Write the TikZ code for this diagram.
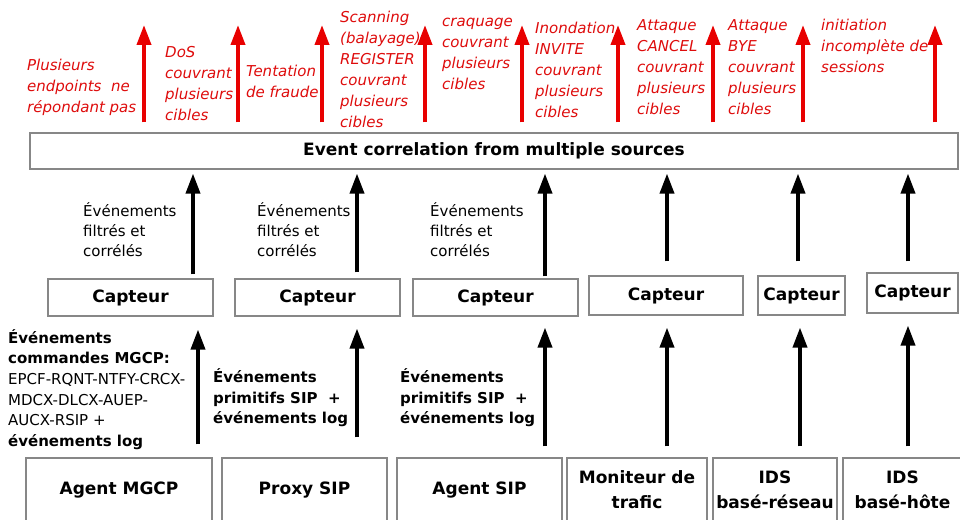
\documentclass[tikz,border=0pt]{standalone}
\usepackage{fontspec}
\setmainfont{DejaVu Sans}
\usetikzlibrary{arrows.meta}
\definecolor{redtxt}{RGB}{222,12,12}
\definecolor{redarr}{RGB}{232,0,0}
\definecolor{boxgray}{RGB}{135,135,135}
\begin{document}
\begin{tikzpicture}[x=1pt,y=-1pt,
  box/.style={draw=boxgray,line width=1.1pt,inner sep=0pt,font=\fontsize{17}{25}\selectfont\bfseries,align=center},
  redlbl/.style={anchor=west,inner sep=0pt,align=left,text=redtxt,font=\fontsize{15}{21}\selectfont\itshape},
  blklbl/.style={anchor=west,inner sep=0pt,align=left,font=\fontsize{15}{20}\selectfont},
  boldlbl/.style={anchor=west,inner sep=0pt,align=left,font=\fontsize{15}{20.6}\selectfont\bfseries},
  barr/.style={line width=3.6pt,-{Triangle[length=20pt,width=14pt]}},
  rarr/.style={draw=redarr,line width=3.8pt,-{Triangle[length=20pt,width=14pt,fill=redarr]}}]
\useasboundingbox (0,0) rectangle (960,519);
% top box
\node[box,minimum width=928pt,minimum height=36pt] (ev) at (494,151) {Event correlation from multiple sources};
% capteurs
\node[box,minimum width=165pt,minimum height=37pt] (cap1) at (130.5,297.5) {Capteur};
\node[box,minimum width=165pt,minimum height=37pt] (cap2) at (317.5,297.5) {Capteur};
\node[box,minimum width=165pt,minimum height=37pt] (cap3) at (495.5,297.5) {Capteur};
\node[box,minimum width=154pt,minimum height=39pt] (cap4) at (666,295.5) {Capteur};
\node[box,minimum width=87pt,minimum height=39pt] (cap5) at (801.5,295.5) {Capteur};
\node[box,minimum width=91pt,minimum height=40pt] (cap6) at (912.5,293) {Capteur};
% bottom boxes
\node[box,minimum width=186pt,minimum height=64pt] (b1) at (119,490) {Agent MGCP};
\node[box,minimum width=165pt,minimum height=64pt] (b2) at (304.5,490) {Proxy SIP};
\node[box,minimum width=165pt,minimum height=64pt] (b3) at (479.5,490) {Agent SIP};
\node[box,minimum width=140pt,minimum height=64pt] (b4) at (637,490) {Moniteur de\\trafic};
\node[box,minimum width=124pt,minimum height=64pt] (b5) at (775,490) {IDS\\basé-réseau};
\node[box,minimum width=119pt,minimum height=64pt] (b6) at (902.5,490) {IDS\\basé-hôte};
% arrows bottom -> capteurs
\draw[barr,shorten <=13pt,shorten >=13pt] (198,0 |- b1.north) -- (198,0 |- cap1.south);
\draw[barr,shorten <=20pt,shorten >=12pt] (357,0 |- b2.north) -- (357,0 |- cap2.south);
\draw[barr,shorten <=11pt,shorten >=11pt] (545,0 |- b3.north) -- (545,0 |- cap3.south);
\draw[barr,shorten <=11pt,shorten >=12pt] (667,0 |- b4.north) -- (667,0 |- cap4.south);
\draw[barr,shorten <=11pt,shorten >=12pt] (800,0 |- b5.north) -- (800,0 |- cap5.south);
\draw[barr,shorten <=11pt,shorten >=12pt] (908,0 |- b6.north) -- (908,0 |- cap6.south);
% arrows capteurs -> event
\draw[barr,shorten <=4pt,shorten >=4pt] (193,0 |- cap1.north) -- (193,0 |- ev.south);
\draw[barr,shorten <=6pt,shorten >=4pt] (357,0 |- cap2.north) -- (357,0 |- ev.south);
\draw[barr,shorten <=2pt,shorten >=4pt] (545,0 |- cap3.north) -- (545,0 |- ev.south);
\draw[barr,shorten <=14pt,shorten >=4pt] (667,0 |- cap4.north) -- (667,0 |- ev.south);
\draw[barr,shorten <=14pt,shorten >=4pt] (798,0 |- cap5.north) -- (798,0 |- ev.south);
\draw[barr,shorten <=11pt,shorten >=4pt] (908,0 |- cap6.north) -- (908,0 |- ev.south);
% red arrows
\foreach \i/\x in {1/144,2/238,3/322,4/425,5/522,6/618,7/713,8/803,9/935}{
  \coordinate (r\i) at (\x,25);
  \draw[rarr,shorten <=10pt] (\x,0 |- ev.north) -- (r\i);
}
% red labels
\node[redlbl] (t1) at (27,87) {Plusieurs\\endpoints~ ne\\répondant pas};
\node[redlbl] (t2) at (165,83.5) {DoS\\couvrant\\plusieurs\\cibles};
\node[redlbl] (t3) at (246,81) {Tentation\\de fraude};
\node[redlbl] (t4) at (340,69.5) {Scanning\\(balayage)\\REGISTER\\couvrant\\plusieurs\\cibles};
\node[redlbl] (t5) at (442,53.5) {craquage\\couvrant\\plusieurs\\cibles};
\node[redlbl] (t6) at (535,70) {Inondation\\INVITE\\couvrant\\plusieurs\\cibles};
\node[redlbl] (t7) at (637,67.5) {Attaque\\CANCEL\\couvrant\\plusieurs\\cibles};
\node[redlbl] (t8) at (728,67.5) {Attaque\\BYE\\couvrant\\plusieurs\\cibles};
\node[redlbl] (t9) at (821,46) {initiation\\incomplète de\\sessions};
% filtered labels
\node[blklbl] (f1) at (83,230) {Événements\\filtrés et\\corrélés};
\node[blklbl] (f2) at (257,230) {Événements\\filtrés et\\corrélés};
\node[blklbl] (f3) at (430,230) {Événements\\filtrés et\\corrélés};
% bottom labels
\node[boldlbl] (l1) at (8,389.5) {Événements\\commandes MGCP:\\{\mdseries EPCF-RQNT-NTFY-CRCX-}\\{\mdseries MDCX-DLCX-AUEP-}\\{\mdseries AUCX-RSIP +}\\événements log};
\node[boldlbl] (l2) at (213,398) {Événements\\primitifs SIP~ +\\événements log};
\node[boldlbl] (l3) at (400,398) {Événements\\primitifs SIP~ +\\événements log};
\end{tikzpicture}
\end{document}
